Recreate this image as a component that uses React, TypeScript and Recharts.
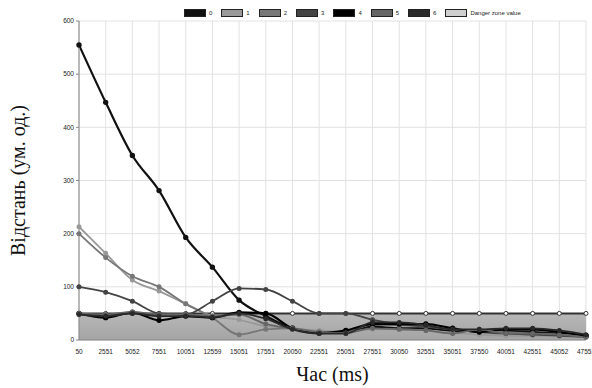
import React from "react";
import {
  Area,
  CartesianGrid,
  ComposedChart,
  Label,
  Line,
  XAxis,
  YAxis,
} from "recharts";

const times = [
  "50", "2551", "5052", "7551", "10051", "12559", "15051", "17551", "20050", "22551",
  "25051", "27551", "30050", "32551", "35051", "37550", "40051", "42551", "45052", "47552",
];

const s0 = [555, 447, 347, 281, 193, 137, 75, 45, 22, 15, 15, 25, 22, 22, 17, 17, 17, 15, 12, 8];
const s1 = [213, 163, 113, 92, 68, 45, 38, 26, 22, 18, 15, 20, 20, 18, 14, 10, 8, 8, 7, 6];
const s2 = [200, 155, 120, 100, 68, 42, 10, 20, 22, 15, 15, 30, 28, 25, 20, 18, 15, 12, 10, 7];
const s3 = [100, 90, 73, 50, 48, 73, 97, 95, 73, 50, 50, 38, 30, 25, 20, 15, 12, 10, 8, 6];
const s4 = [50, 42, 52, 37, 45, 42, 52, 50, 22, 13, 18, 30, 30, 30, 22, 15, 20, 20, 15, 8];
const s5 = [50, 48, 53, 48, 48, 45, 48, 30, 22, 15, 13, 22, 20, 18, 12, 20, 12, 12, 10, 5];
const s6 = [48, 45, 50, 45, 45, 43, 50, 40, 20, 12, 12, 33, 33, 28, 20, 20, 22, 22, 18, 10];
const danger = [50, 50, 50, 50, 50, 50, 50, 50, 50, 50, 50, 50, 50, 50, 50, 50, 50, 50, 50, 50];

const seriesNames = ["0", "1", "2", "3", "4", "5", "6"];
const seriesValues = [s0, s1, s2, s3, s4, s5, s6];
const seriesColors = ["#111", "#999", "#777", "#444", "#000", "#666", "#2a2a2a"];
const yTicks = [0, 100, 200, 300, 400, 500, 600];

const data = times.map((t, i) => {
  const row: Record<string, number | string> = { t, danger: danger[i] };
  seriesValues.forEach((vals, k) => {
    row["s" + k] = vals[i];
  });
  return row;
});

const sans = "'Liberation Sans', Arial, sans-serif";
const serif = "'Liberation Serif', 'Times New Roman', serif";
const tickStyle = { fontSize: 6.5, fill: "#222", fontFamily: sans };

const LegendBox = () => {
  const items = [
    ...seriesNames.map((n, k) => ({ name: n, color: seriesColors[k] })),
    { name: "Danger zone value", color: "#cfcfcf" },
  ];
  return (
    <div
      style={{
        position: "absolute",
        left: 184,
        top: 9,
        display: "flex",
        gap: 9,
      }}
    >
      {items.map((it) => (
        <div key={it.name} style={{ display: "flex", alignItems: "center" }}>
          <span
            style={{
              display: "inline-block",
              width: 20,
              height: 6,
              background: it.color,
              border: "1px solid #222",
              marginRight: 3,
            }}
          />
          <span style={{ fontSize: 6, fontFamily: sans, color: "#222" }}>{it.name}</span>
        </div>
      ))}
    </div>
  );
};

export default function App() {
  return (
    <div style={{ position: "absolute", left: 0, top: 0, width: 592, height: 388, background: "#fff" }}>
      <ComposedChart
        width={592}
        height={388}
        data={data}
        margin={{ top: 21, right: 6, bottom: 18, left: 0 }}
      >
        <defs>
          <linearGradient id="zone" x1="0" y1="0" x2="0" y2="1">
            <stop offset="0%" stopColor="#b8b8b8" />
            <stop offset="100%" stopColor="#a4a4a4" />
          </linearGradient>
        </defs>
        <CartesianGrid stroke="#e2e2e2" />
        <XAxis
          dataKey="t"
          scale="point"
          interval={0}
          height={30}
          tick={tickStyle}
          tickLine={false}
          axisLine={{ stroke: "#888" }}
          tickMargin={3}
        >
          <Label
            value="Час (ms)"
            position="insideBottom"
            offset={-11}
            style={{ fontSize: 20, fill: "#111", fontFamily: serif }}
          />
        </XAxis>
        <YAxis
          domain={[0, 600]}
          ticks={yTicks}
          width={79}
          tick={tickStyle}
          tickLine={{ stroke: "#888" }}
          tickSize={3}
          axisLine={{ stroke: "#888" }}
        >
          <Label
            value="Відстань (ум. од.)"
            angle={-90}
            position="insideLeft"
            offset={18}
            style={{ fontSize: 20, fill: "#111", fontFamily: serif, textAnchor: "middle" }}
          />
        </YAxis>
        <Area
          dataKey="danger"
          name="Danger zone value"
          type="linear"
          fill="url(#zone)"
          fillOpacity={1}
          stroke="#333"
          strokeWidth={2}
          dot={{ r: 2, fill: "#fff", stroke: "#333", strokeWidth: 1 }}
          isAnimationActive={false}
        />
        {seriesNames.map((n, k) => (
          <Line
            key={n}
            dataKey={"s" + k}
            name={n}
            type="monotone"
            stroke={seriesColors[k]}
            strokeWidth={k === 0 || k === 4 ? 2.2 : 1.8}
            dot={{ r: 1.6, fill: seriesColors[k], stroke: seriesColors[k] }}
            isAnimationActive={false}
          />
        ))}
      </ComposedChart>
      <LegendBox />
    </div>
  );
}
